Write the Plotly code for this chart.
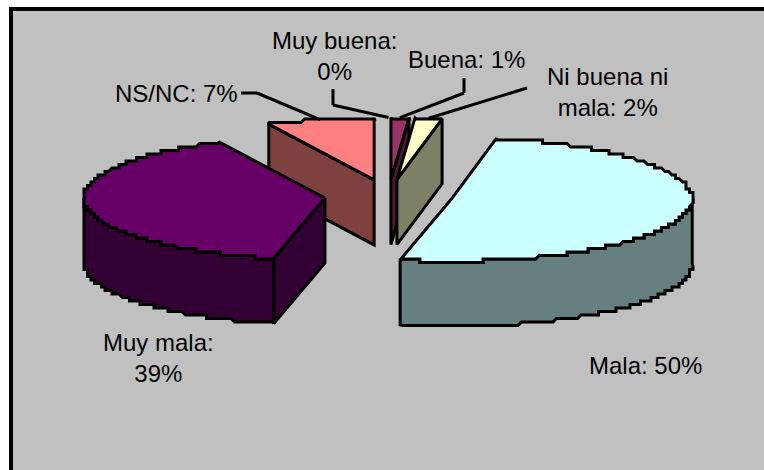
import math
import plotly.graph_objects as go

categories = ["Muy buena", "Buena", "Ni buena ni mala", "Mala", "Muy mala", "NS/NC"]
values = [0.0, 1.2, 1.8, 50.4, 39.4, 7.2]
labels = ["Muy buena:<br>0%", "Buena: 1%", "Ni buena ni<br>mala: 2%", "Mala: 50%", "Muy mala:<br>39%", "NS/NC: 7%"]
top_colors = ["#9999FF", "#993366", "#FFFFCC", "#CCFFFF", "#660066", "#FF8080"]
side_colors = ["#4C4C7F", "#4C1933", "#7F7F66", "#668080", "#330033", "#7F4040"]
label_pos = [(334, 56), (466, 59), (607, 92), (645, 365), (158, 358), (176, 93)]
leader_elbows = [[(333, 89), (333, 105)], [(464, 78), (464, 93)], [(527, 88)], None, None, [(241, 93), (257, 93)]]

W, H = 764, 470
CX, CY, A, B, DEPTH, EXPLODE = 388.5, 196.0, 241.0, 62.0, 65.0, 0.2656
LINE = dict(color="black", width=3)
STEP = 3.5

total = sum(values)
slices = []
cum = 0.0
for i, v in enumerate(values):
    t0 = cum / total * 2 * math.pi
    cum += v
    t1 = cum / total * 2 * math.pi
    mid = (t0 + t1) / 2
    cx = CX + EXPLODE * A * math.sin(mid)
    cy = CY - EXPLODE * B * math.cos(mid)
    slices.append(dict(i=i, t0=t0, t1=t1, mid=mid, cx=cx, cy=cy))


def pt(s, t, dz=0.0):
    return s["cx"] + A * math.sin(t), s["cy"] - B * math.cos(t) + dz


def arc(s, a0, a1, dz=0.0):
    # dense arc snapped to a coarse grid: the reference's curves are visibly stepped
    n = max(2, int(abs(a1 - a0) / 0.004))
    out = [pt(s, a0, dz)]
    for k in range(1, n):
        x, y = pt(s, a0 + (a1 - a0) * k / n, dz)
        out.append((round(x / STEP) * STEP, round(y / STEP) * STEP))
    out.append(pt(s, a1, dz))
    return out


fig = go.Figure()


def poly(points, color):
    xs = [p[0] for p in points] + [points[0][0]]
    ys = [p[1] for p in points] + [points[0][1]]
    fig.add_trace(go.Scatter(x=xs, y=ys, mode="lines", fill="toself", fillcolor=color,
                             line=LINE, hoverinfo="skip", showlegend=False))


for s in sorted(slices, key=lambda q: q["cy"]):
    if values[s["i"]] <= 0:
        continue
    apex = (s["cx"], s["cy"])
    apex_low = (s["cx"], s["cy"] + DEPTH)
    side = side_colors[s["i"]]
    if math.sin(s["t0"]) < -1e-6:
        a, b = pt(s, s["t0"]), pt(s, s["t0"], DEPTH)
        poly([apex, a, b, apex_low], side)
    if math.sin(s["t1"]) > 1e-6:
        a, b = pt(s, s["t1"]), pt(s, s["t1"], DEPTH)
        poly([apex, a, b, apex_low], side)
    lo = max(s["t0"], math.pi / 2)
    hi = min(s["t1"], 3 * math.pi / 2)
    if hi > lo:
        poly(arc(s, lo, hi) + arc(s, hi, lo, DEPTH), side)
    poly([apex] + arc(s, s["t0"], s["t1"]), top_colors[s["i"]])

shapes = [
    dict(type="rect", x0=11, y0=9, x1=W + 5, y1=H + 5, fillcolor="#C0C0C0", line=dict(width=0), layer="below"),
    dict(type="line", x0=9, y0=9, x1=W + 5, y1=9, line=dict(color="black", width=4), layer="below"),
    dict(type="line", x0=11, y0=7, x1=11, y1=H + 5, line=dict(color="black", width=4), layer="below"),
]

annotations = []
for s in slices:
    i = s["i"]
    x, y = label_pos[i]
    annotations.append(dict(x=x, y=y, text=labels[i], showarrow=False, xanchor="center", yanchor="middle",
                            align="center", font=dict(family="Liberation Sans", size=24, color="black")))
    if leader_elbows[i]:
        end = pt(s, s["mid"])
        path = leader_elbows[i] + [end]
        for p, q in zip(path[:-1], path[1:]):
            shapes.append(dict(type="line", x0=p[0], y0=p[1], x1=q[0], y1=q[1],
                               line=dict(color="black", width=3), layer="above"))

fig.update_layout(
    width=W, height=H, autosize=False,
    margin=dict(l=0, r=0, t=0, b=0, pad=0),
    paper_bgcolor="white", plot_bgcolor="white",
    xaxis=dict(range=[0, W], visible=False, fixedrange=True),
    yaxis=dict(range=[H, 0], visible=False, fixedrange=True),
    shapes=shapes, annotations=annotations, showlegend=False,
)
fig.write_html("out.html", config=dict(displayModeBar=False),
               post_script="document.body.style.margin='0';document.body.style.overflow='hidden';")
